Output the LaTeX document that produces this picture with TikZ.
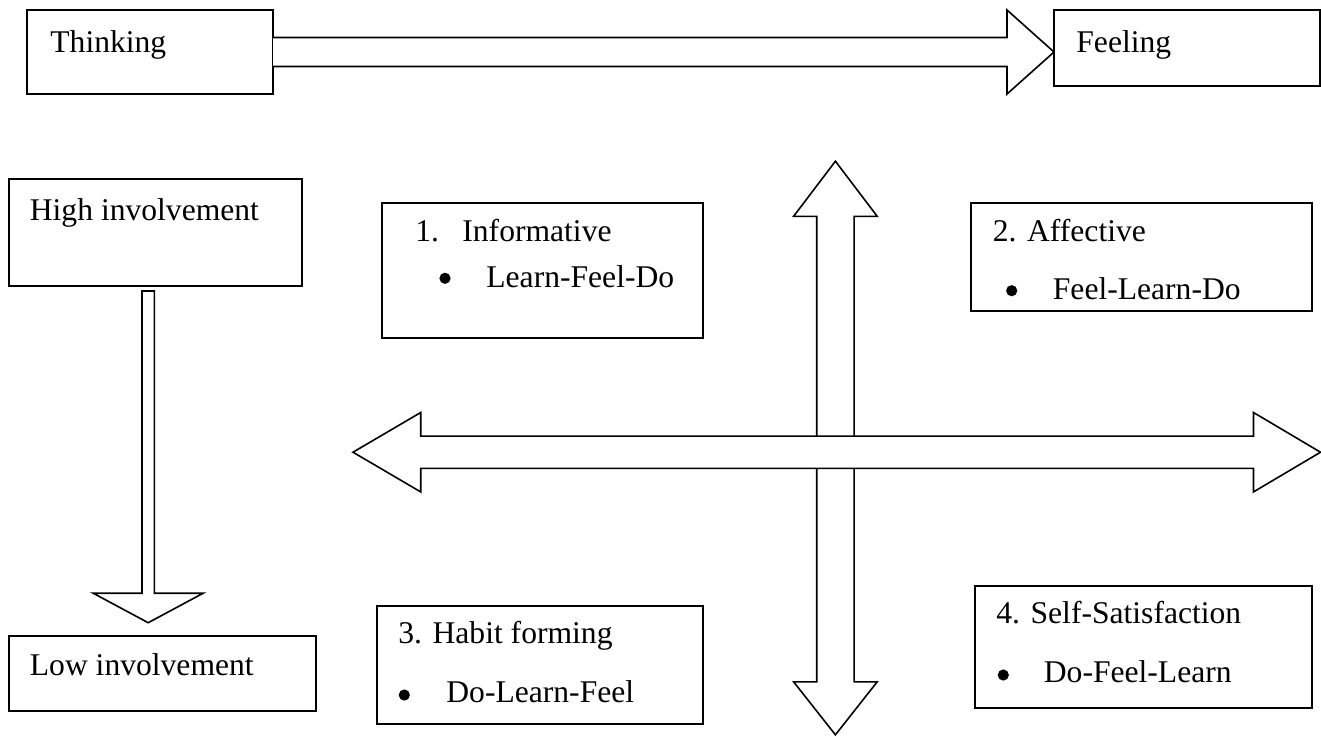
\documentclass[tikz,border=0pt]{standalone}
\usepackage{fontspec}
\setmainfont{Liberation Serif}
\usetikzlibrary{calc}
\begin{document}
\begin{tikzpicture}[x=0.5pt,y=-0.5pt,
  box/.style={draw, line width=1pt, fill=white, anchor=north west, inner sep=0pt, outer sep=0pt},
  lbl/.style={anchor=base west, inner sep=0pt, font=\fontsize{15.8pt}{19pt}\selectfont},
  dot/.style={circle, fill=black, inner sep=0pt, minimum size=5.6pt},
  ba/.style={draw, line width=0.8pt, fill=white, line join=miter}]
\useasboundingbox (0,0) rectangle (1321,736);

% boxes
\node[box, minimum width=123pt, minimum height=42pt] (think) at (27,10) {};
\node[box, minimum width=133pt, minimum height=38pt] (feel) at (1054,10) {};
\node[box, minimum width=146.5pt, minimum height=53.25pt] (high) at (8.5,179) {};
\node[box, minimum width=153.5pt, minimum height=37.25pt] (low) at (8.5,636) {};
\node[box, minimum width=160.75pt, minimum height=67.75pt] (info) at (381.5,202.5) {};
\node[box, minimum width=170.5pt, minimum height=54pt] (aff) at (970.5,202.5) {};
\node[box, minimum width=163pt, minimum height=59.25pt] (habit) at (377,605.5) {};
\node[box, minimum width=168.25pt, minimum height=61pt] (self) at (975,585.5) {};

% texts
\node[lbl] (tthink) at (50,52) {Thinking};
\node[lbl] (tfeel) at (1076,52) {Feeling};
\node[lbl] (thigh) at (29.5,220.5) {High involvement};
\node[lbl] (tlow) at (29.5,675) {Low involvement};
\node[lbl] (tinfo1) at (415,241) {1.};
\node[lbl] (tinfo2) at (462,241) {Informative};
\node[dot] (binfo) at (445,278.3) {};
\node[lbl] (tinfo3) at (486,287.3) {Learn-Feel-Do};
\node[lbl] (taff1) at (992.5,241) {2. Affective};
\node[dot] (baff) at (1011.7,290.7) {};
\node[lbl] (taff2) at (1052.5,299.3) {Feel-Learn-Do};
\node[lbl] (thab1) at (398,643.5) {3. Habit forming};
\node[dot] (bhab) at (404.3,695) {};
\node[lbl] (thab2) at (446,702.5) {Do-Learn-Feel};
\node[lbl] (tself1) at (996,623) {4. Self-Satisfaction};
\node[dot] (bself) at (1003.3,675) {};
\node[lbl] (tself2) at (1043.5,682.4) {Do-Feel-Learn};

% top arrow Thinking -> Feeling
\coordinate (ttip) at (feel.west |- think.east);
\draw[ba] ($(think.east)+(0,-14.5)$) -- ($(ttip)+(-47,-14.5)$) -- ($(ttip)+(-47,-42)$) -- (ttip)
  -- ($(ttip)+(-47,42)$) -- ($(ttip)+(-47,14.5)$) -- ($(think.east)+(0,14.5)$);

% down arrow High -> Low
\coordinate (dtop) at ($(high.south)+(-6.8,5.5)$);
\coordinate (dtip) at ($(low.north)+(-13.8,-13.3)$);
\draw[ba] ($(dtop)+(-6.2,0)$) -- ($(dtip)+(-6.2,-29.5)$) -- ($(dtip)+(-55,-29.5)$) -- (dtip)
  -- ($(dtip)+(55,-29.5)$) -- ($(dtip)+(6.2,-29.5)$) -- ($(dtop)+(6.2,0)$) -- cycle;

% vertical double arrow
\coordinate (vt) at (835.4,161.2);
\coordinate (vb) at (835.4,734.8);
\draw[ba] (vt) -- ($(vt)+(41.8,55.1)$) -- ($(vt)+(18.7,55.1)$) -- ($(vb)+(18.7,-53)$)
  -- ($(vb)+(41.8,-53)$) -- (vb) -- ($(vb)+(-41.8,-53)$) -- ($(vb)+(-18.7,-53)$)
  -- ($(vt)+(-18.7,55.1)$) -- ($(vt)+(-41.8,55.1)$) -- cycle;

% horizontal double arrow
\coordinate (hl) at (353,452.2);
\coordinate (hr) at (1320.5,452.2);
\draw[ba] (hl) -- ($(hl)+(67.7,-39.7)$) -- ($(hl)+(67.7,-16.1)$) -- ($(hr)+(-67,-16.1)$)
  -- ($(hr)+(-67,-39.7)$) -- (hr) -- ($(hr)+(-67,39.7)$) -- ($(hr)+(-67,16.1)$)
  -- ($(hl)+(67.7,16.1)$) -- ($(hl)+(67.7,39.7)$) -- cycle;
\end{tikzpicture}
\end{document}
